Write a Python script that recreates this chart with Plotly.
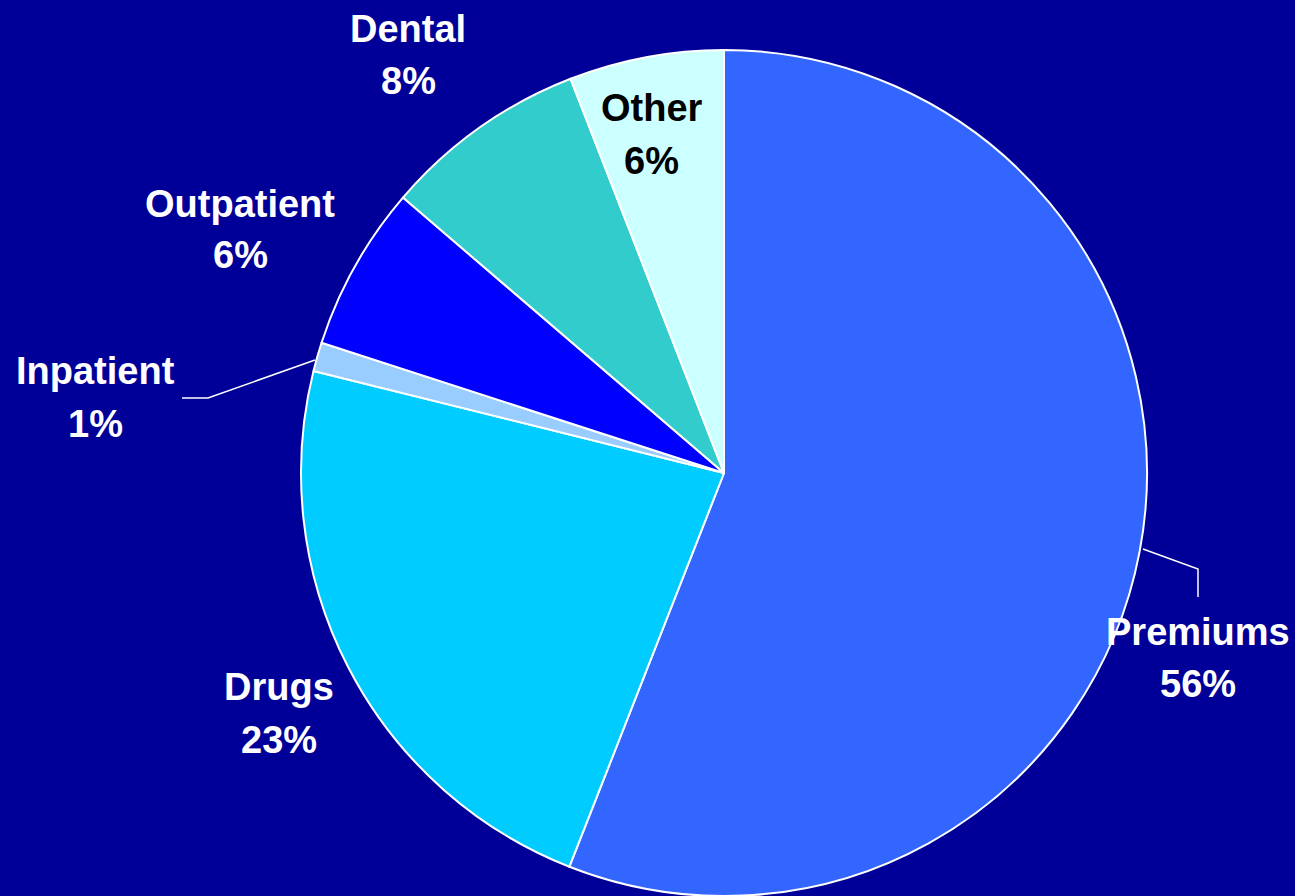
import plotly.graph_objects as go

W, H = 1295, 896

categories = ["Premiums", "Drugs", "Inpatient", "Outpatient", "Dental", "Other"]
values = [55.9, 22.9, 1.1, 6.3, 7.8, 5.9]
pct_labels = ["56%", "23%", "1%", "6%", "8%", "6%"]
colors = ["#3366FF", "#00CCFF", "#99CCFF", "#0000FF", "#33CCCC", "#CCFFFF"]
text_colors = ["white", "white", "white", "white", "white", "black"]
# label positions in pixels: x centre, y of name line, y of percent line
label_x = [1198, 279, 95, 240, 408, 652]
name_y = [632, 687, 371, 204, 29, 108]
pct_y = [684, 740, 424, 255, 81, 161]

fig = go.Figure()
fig.add_trace(go.Pie(
    labels=categories, values=values, sort=False, direction="clockwise",
    rotation=0, textinfo="none", hoverinfo="label+percent",
    marker=dict(colors=colors, line=dict(color="white", width=2)),
    domain=dict(x=[(724 - 423) / W, (724 + 423) / W], y=[0, 846 / H]),
    showlegend=False,
))


def px(x):
    return x / W


def py(y):
    return 1 - y / H


FONT = "Liberation Sans, Arial, sans-serif"
for cat, pct, x, ny, pyy, tc in zip(categories, pct_labels, label_x, name_y, pct_y, text_colors):
    for txt, yy in ((cat, ny), (pct, pyy)):
        fig.add_annotation(
            x=px(x), y=py(yy), xref="paper", yref="paper", showarrow=False,
            text=f"<b>{txt}</b>", xanchor="center", yanchor="middle",
            font=dict(family=FONT, size=38, color=tc),
        )

# leader lines
leaders = [
    [(1143, 549), (1198, 569), (1198, 597)],
    [(182, 398), (208, 398), (315, 360)],
]
for pts in leaders:
    path = "M " + " L ".join(f"{px(a)},{py(b)}" for a, b in pts)
    fig.add_shape(type="path", path=path, xref="paper", yref="paper",
                  line=dict(color="white", width=1.5))

fig.update_layout(
    width=W, height=H, margin=dict(l=0, r=0, t=0, b=0),
    paper_bgcolor="#000099", plot_bgcolor="#000099",
)

fig.write_html(
    "out.html",
    config={"displayModeBar": False},
    post_script="document.body.style.margin='0';document.body.style.background='#000099';",
)
